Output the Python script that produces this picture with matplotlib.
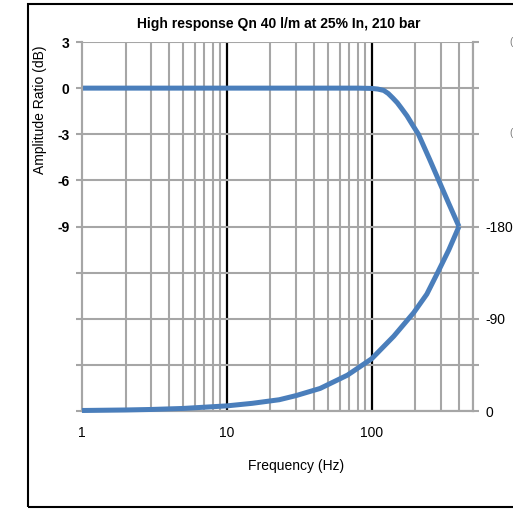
import matplotlib
matplotlib.use("Agg")
import matplotlib.pyplot as plt
from matplotlib.patches import Rectangle
import numpy as np

plt.rcParams['font.family'] = ['Liberation Sans', 'DejaVu Sans']

title = "High response Qn 40 l/m at 25% In, 210 bar"
xlabel = "Frequency (Hz)"
ylabel = "Amplitude Ratio (dB)"

amp_freq = [1, 10, 50, 80, 100, 110, 121, 130, 140, 150, 160, 175, 190, 210, 250, 290, 340, 400]
amp_db = [0.0, 0.0, 0.0, 0.0, -0.02, -0.06, -0.15, -0.35, -0.65, -0.95, -1.3, -1.8, -2.35, -3.0, -4.6, -6.0, -7.5, -9.0]

ph_freq = [1, 2, 3, 5, 10, 15, 23, 30, 44, 68, 100, 142, 195, 240, 285, 340, 400]
ph_deg = [-0.5, -1, -1.5, -2.5, -5, -7.5, -11, -15, -22, -35, -51, -73, -96, -114, -135, -157, -180]

left_ticks = [3, 0, -3, -6, -9]
right_ticks = [0, -90, -180]
x_ticks = [1, 10, 100]
x_ticklabels = ["1", "10", "100"]

W, H = 513, 509
fig = plt.figure(figsize=(W / 100, H / 100), dpi=100)
ax = fig.add_axes([82 / W, 1 - 411 / H, (473 - 82) / W, (411 - 42) / H])
ax2 = ax.twinx()

grey = "#a6a6a6"
blue = "#4a7ebb"

ax.set_xscale("log")
ax.set_xlim(1, 500)
ax.set_ylim(-21, 3)
ax2.set_ylim(0, -360)

lt = np.arange(-21, 3.1, 3)
ax.set_yticks(lt)
ax.set_yticklabels([str(int(v)) if v in left_ticks else "" for v in lt],
                   fontweight="bold", fontsize=10)
ax.grid(axis="y", which="major", color=grey, lw=1.5)
ax.xaxis.set_minor_locator(matplotlib.ticker.LogLocator(base=10, subs=np.arange(2, 10)))
ax.xaxis.set_minor_formatter(matplotlib.ticker.NullFormatter())
ax.grid(axis="x", which="minor", color=grey, lw=1.5)
ax.set_xticks(x_ticks)
ax.set_xticklabels(x_ticklabels, fontsize=10)
for f in x_ticks[1:]:
    ax.axvline(f, color="black", lw=1.6, zorder=1.5)
ax.tick_params(axis="x", which="both", length=0, pad=11)
ax.tick_params(axis="y", which="both", length=4, color=grey, width=1.5, pad=5)

r_all = np.arange(0, -361, -45)
ax2.set_yticks(r_all)
ax2.set_yticklabels([str(int(v)) if v in right_ticks else "" for v in r_all], fontsize=10)
ax2.tick_params(axis="y", length=4, color=grey, width=1.5, pad=5)

for a in (ax, ax2):
    for s in a.spines.values():
        s.set_color(grey)
        s.set_linewidth(1.5)
    a.spines["top"].set_visible(False)

ax.plot(amp_freq, amp_db, color=blue, lw=3.6, solid_capstyle="butt", solid_joinstyle="round",
        zorder=3, clip_on=False)
ax2.plot(ph_freq, ph_deg, color=blue, lw=3.6, solid_capstyle="butt", solid_joinstyle="round",
         zorder=3, clip_on=False)

fig.text(279 / W, 1 - 24 / H, title, ha="center", va="center", fontsize=10, fontweight="bold")
fig.text(296 / W, 1 - 466 / H, xlabel, ha="center", va="center", fontsize=10)
fig.text(40 / W, 1 - 110 / H, ylabel, ha="center", va="center", fontsize=10, rotation=90)

for yy in (42, 133):
    fig.text(509 / W, 1 - yy / H, "(", ha="left", va="center", fontsize=7, color="#777777")

fig.patches.append(Rectangle((28 / W, 2 / H), 1.2, 1 - 6 / H, transform=fig.transFigure,
                             fill=False, edgecolor="black", lw=1.5))

fig.savefig("out.png", dpi=100)
